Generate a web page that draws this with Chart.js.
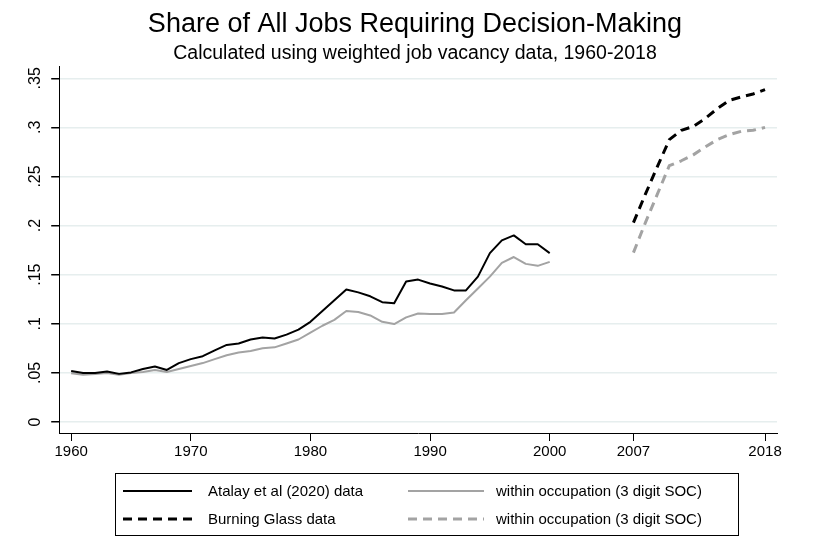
<!DOCTYPE html>
<html>
<head>
<meta charset="utf-8">
<script src="https://cdn.jsdelivr.net/npm/chart.js@4.4.0/dist/chart.umd.min.js"></script>
<style>
    html, body { margin: 0; padding: 0; background: #fff; }
    #wrap { width: 830px; height: 547px; }
</style>
</head>
<body>
<div id="wrap"><canvas id="chart"></canvas></div>
<script>
// data
const atalayYears = [1960, 1961, 1962, 1963, 1964, 1965, 1966, 1967, 1968, 1969,
    1970, 1971, 1972, 1973, 1974, 1975, 1976, 1977, 1978, 1979,
    1980, 1981, 1982, 1983, 1984, 1985, 1986, 1987, 1988, 1989,
    1990, 1991, 1992, 1993, 1994, 1995, 1996, 1997, 1998, 1999, 2000];
const atalayAll = [.052, .050, .050, .0515, .049, .0505, .054, .0565, .053, .060,
    .064, .067, .073, .0785, .080, .084, .086, .085, .089, .094,
    .102, .113, .124, .135, .132, .128, .122, .121, .143, .145,
    .141, .138, .134, .134, .148, .172, .185, .190, .181, .181, .172];
const atalayWithin = [.0497, .048, .049, .050, .048, .050, .051, .053, .051, .054,
    .057, .060, .064, .068, .0707, .0724, .075, .076, .080, .084,
    .091, .098, .104, .113, .112, .1085, .102, .0997, .1065, .1105,
    .110, .110, .1115, .124, .136, .148, .162, .168, .161, .159, .163];
const bgYears = [2007, 2008, 2009, 2010, 2011, 2012, 2013, 2014, 2015, 2016, 2017, 2018];
const bgAll = [.203, .232, .260, .2875, .297, .301, .309, .319, .3275, .331, .334, .3385];
const bgWithin = [.1725, .203, .232, .261, .266, .272, .280, .2875, .2925, .296, .297, .300];

const xTicks = [1960, 1970, 1980, 1990, 2000, 2007, 2018];
const yTicks = [0, .05, .1, .15, .2, .25, .3, .35];
const yTickLabels = ['0', '.05', '.1', '.15', '.2', '.25', '.3', '.35'];
const seriesLabels = ['Atalay et al (2020) data', 'within occupation (3 digit SOC)',
    'Burning Glass data', 'within occupation (3 digit SOC)'];
const titleText = 'Share of All Jobs Requiring Decision-Making';
const subtitleText = 'Calculated using weighted job vacancy data, 1960-2018';

const FONT = "'Liberation Sans', Arial, sans-serif";
const BLACK = '#000000';
const GREY = '#a3a3a3';

function pts(xs, ys) {
    return xs.map((x, i) => ({x: x, y: ys[i]}));
}

// titles centred on the whole canvas (the plot itself is off-centre)
const pageTitles = {
    id: 'pageTitles',
    afterDraw(chart) {
        const ctx = chart.ctx;
        const cx = chart.width / 2;
        ctx.save();
        ctx.fillStyle = '#000';
        ctx.textAlign = 'center';
        ctx.textBaseline = 'alphabetic';
        ctx.font = '27px ' + FONT;
        ctx.fillText(titleText, cx, 32);
        ctx.font = '19.5px ' + FONT;
        ctx.fillText(subtitleText, cx, 59);
        ctx.restore();
    }
};

// legend box under the plot, drawn by hand so dashes show
const boxLegend = {
    id: 'boxLegend',
    afterDraw(chart) {
        const ctx = chart.ctx;
        const sets = chart.data.datasets;
        const box = {x: 115.5, y: 473.5, w: 623, h: 62};
        ctx.save();
        ctx.strokeStyle = '#000';
        ctx.lineWidth = 1;
        ctx.strokeRect(box.x, box.y, box.w, box.h);
        ctx.font = '15px ' + FONT;
        ctx.fillStyle = '#000';
        ctx.textBaseline = 'middle';
        const cols = [{line: 123, len: 69, text: 208}, {line: 408, len: 76, text: 496}];
        const rows = [491, 519];
        // order: row 1 = solid lines, row 2 = dashed lines
        const place = [[0, 0], [0, 1], [1, 0], [1, 1]];
        sets.forEach((ds, i) => {
            const r = rows[place[i][0]], c = cols[place[i][1]];
            ctx.beginPath();
            ctx.strokeStyle = ds.borderColor;
            ctx.lineWidth = ds.borderWidth;
            ctx.setLineDash(ds.borderDash || []);
            ctx.moveTo(c.line, r);
            ctx.lineTo(c.line + c.len, r);
            ctx.stroke();
            ctx.setLineDash([]);
            ctx.fillText(ds.label, c.text, r + 1);
        });
        ctx.restore();
    }
};

new Chart(document.getElementById('chart'), {
    type: 'line',
    data: {
        datasets: [{
            label: seriesLabels[0],
            data: pts(atalayYears, atalayAll),
            borderColor: BLACK,
            borderWidth: 2
        }, {
            label: seriesLabels[1],
            data: pts(atalayYears, atalayWithin),
            borderColor: GREY,
            borderWidth: 2
        }, {
            label: seriesLabels[2],
            data: pts(bgYears, bgAll),
            borderColor: BLACK,
            borderWidth: 3,
            borderDash: [9, 6]
        }, {
            label: seriesLabels[3],
            data: pts(bgYears, bgWithin),
            borderColor: GREY,
            borderWidth: 3,
            borderDash: [9, 6]
        }]
    },
    options: {
        responsive: true,
        maintainAspectRatio: false,
        animation: false,
        elements: {
            point: {radius: 0},
            line: {tension: 0, borderJoinStyle: 'round'}
        },
        layout: {
            padding: {left: 24, right: 53, top: 66, bottom: 84}
        },
        scales: {
            x: {
                type: 'linear',
                min: 1959,
                max: 2019,
                afterBuildTicks: (scale) => {
                    scale.ticks = xTicks.map(v => ({value: v}));
                },
                ticks: {
                    color: '#000',
                    font: {family: FONT, size: 15},
                    padding: 2,
                    maxRotation: 0,
                    callback: (v) => String(v)
                },
                grid: {
                    drawOnChartArea: false,
                    tickColor: '#000',
                    tickLength: 8
                },
                border: {color: '#000', width: 1}
            },
            y: {
                min: -0.0112,
                max: 0.3625,
                afterBuildTicks: (scale) => {
                    scale.ticks = yTicks.map(v => ({value: v}));
                },
                ticks: {
                    color: '#000',
                    font: {family: FONT, size: 16},
                    minRotation: 90,
                    maxRotation: 90,
                    crossAlign: 'center',
                    padding: 4,
                    callback: (v, i) => yTickLabels[i]
                },
                grid: {
                    color: '#e6eeee',
                    lineWidth: 1.5,
                    tickColor: '#000',
                    tickLength: 8
                },
                border: {color: '#000', width: 1}
            }
        },
        plugins: {
            legend: {display: false},
            tooltip: {enabled: false},
            title: {display: false}
        }
    },
    plugins: [pageTitles, boxLegend]
});
</script>
</body>
</html>
